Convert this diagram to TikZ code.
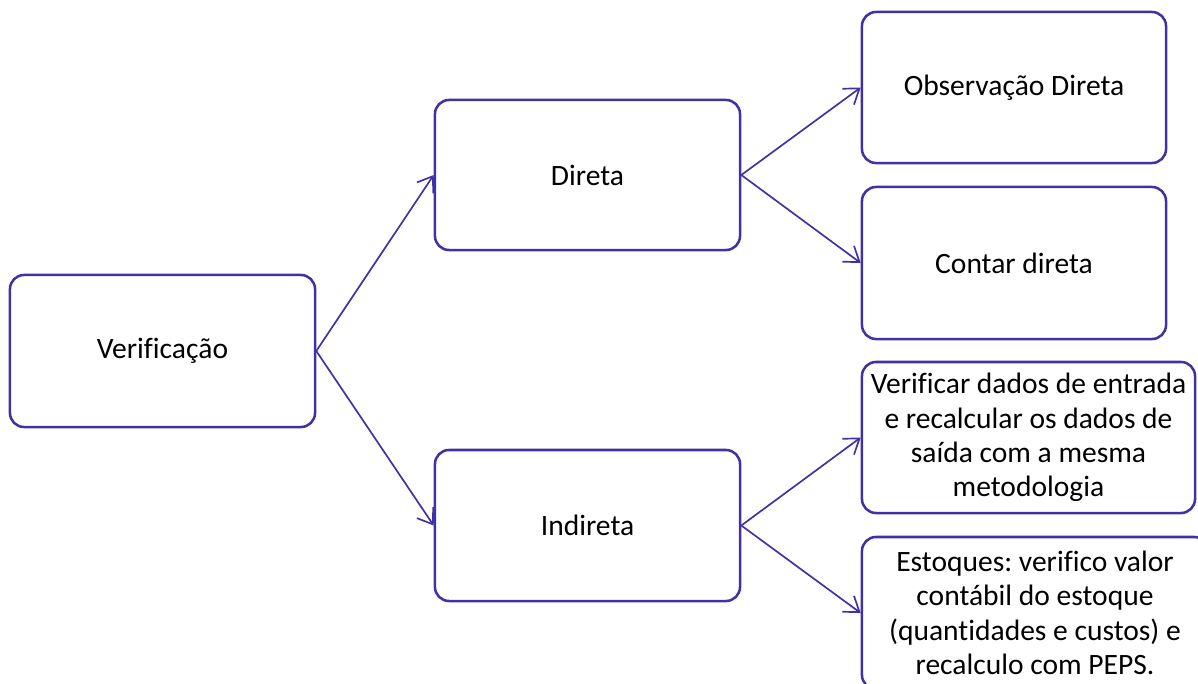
\documentclass[tikz,border=0pt]{standalone}
\usepackage{fontspec}
\setmainfont[Ligatures=NoCommon]{Carlito}
\usetikzlibrary{arrows.meta}
\definecolor{boxline}{RGB}{64,50,163}
\frenchspacing

\tikzset{
  caixa/.style={draw=boxline, line width=1.8pt, rounded corners=10pt, fill=white,
    align=center, inner sep=0pt, font=\fontsize{21}{24.4}\selectfont},
  seta/.style={draw=boxline, line width=1.2pt, -{Straight Barb[length=10pt,width=14pt]}}
}

\begin{document}
\begin{tikzpicture}[x=0.025cm, y=-0.025cm]
            \useasboundingbox (0,0) rectangle (1198,684);

            \node[caixa, minimum width=7.625cm, minimum height=3.8cm] (ver) at (162.5,351) {Verificação};
            \node[caixa, minimum width=7.625cm, minimum height=3.75cm] (dir) at (587.5,175) {Direta};
            \node[caixa, minimum width=7.625cm, minimum height=3.775cm] (ind) at (587.5,525.5) {Indireta};

            \node[caixa, minimum width=7.6cm, minimum height=3.775cm] (obs) at (1014,87.5) {Observação Direta};
            \node[caixa, minimum width=7.6cm, minimum height=3.8cm] (con) at (1014,263) {Contar direta};
            \node[caixa, minimum width=8.325cm, minimum height=3.775cm] (vdados) at (1028.5,437.5)
                {Verificar dados de entrada\\e recalcular os dados de\\saída com a mesma\\metodologia};
            \node[caixa, minimum width=8.65cm, minimum height=3.8cm] (est) at (1035,613)
                {Estoques: verifico valor\\contábil do estoque\\(quantidades e custos) e\\recalculo com PEPS.};

            \draw[seta] (ver.east) -- (dir.west);
            \draw[seta] (ver.east) -- (ind.west);
            \draw[seta] (dir.east) -- (obs.west);
            \draw[seta] (dir.east) -- (con.west);
            \draw[seta] (ind.east) -- (vdados.west);
            \draw[seta] (ind.east) -- (est.west);
        \end{tikzpicture}
\end{document}
